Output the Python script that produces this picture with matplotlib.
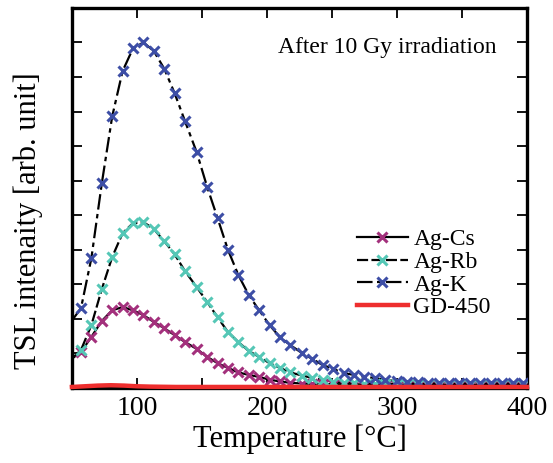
import numpy as np
import matplotlib
matplotlib.use("Agg")
import matplotlib.pyplot as plt
from matplotlib.ticker import MultipleLocator

plt.rcParams['font.family'] = ['Liberation Serif', 'DejaVu Serif']

# marker temperatures (deg C)
temp = [57, 65, 73, 81, 89, 97, 105, 113, 121, 129, 137, 146, 154, 162, 170,
        178, 186, 194, 202, 210, 218, 227, 235, 243, 251, 259, 267, 275, 283,
        291, 300, 308, 316, 324, 332, 340, 348, 356, 364, 372, 381, 389, 397]

ag_cs = [1.04, 1.48, 1.94, 2.25, 2.34, 2.25, 2.11, 1.91, 1.73, 1.53, 1.33, 1.13,
         0.90, 0.72, 0.58, 0.45, 0.38, 0.32, 0.24, 0.19, 0.15, 0.13, 0.12, 0.12,
         0.11, 0.11, 0.11, 0.10, 0.10, 0.10, 0.10, 0.10, 0.10, 0.10, 0.10, 0.10,
         0.10, 0.10, 0.10, 0.10, 0.10, 0.10, 0.10]

ag_rb = [1.10, 1.82, 2.86, 3.79, 4.48, 4.77, 4.80, 4.60, 4.25, 3.87, 3.38, 2.92,
         2.49, 2.05, 1.62, 1.33, 1.07, 0.90, 0.72, 0.58, 0.45, 0.36, 0.29, 0.23,
         0.18, 0.15, 0.14, 0.13, 0.13, 0.13, 0.12, 0.12, 0.12, 0.12, 0.12, 0.12,
         0.12, 0.12, 0.12, 0.12, 0.12, 0.12, 0.12]

ag_k = [2.31, 3.76, 5.92, 7.86, 9.17, 9.83, 10.0, 9.75, 9.24, 8.53, 7.72, 6.82,
        5.82, 4.92, 4.00, 3.27, 2.69, 2.25, 1.82, 1.47, 1.24, 1.01, 0.84, 0.66,
        0.55, 0.43, 0.38, 0.32, 0.29, 0.23, 0.20, 0.17, 0.16, 0.15, 0.15, 0.15,
        0.15, 0.15, 0.15, 0.15, 0.15, 0.15, 0.15]

# value of each curve at the left edge (50 deg C), line only
start_cs, start_rb, start_k = 0.85, 0.85, 1.95

gd_temp = [50, 60, 70, 80, 90, 100, 110, 130, 200, 300, 400]
gd_450 = [0.03, 0.05, 0.07, 0.08, 0.07, 0.05, 0.04, 0.03, 0.03, 0.03, 0.03]

fig = plt.figure(figsize=(5.53, 4.63), dpi=100)
ax = fig.add_axes([0.130, 0.162, 0.823, 0.821])

series = [
    ("Ag-Cs", ag_cs, start_cs, '-', '#a3307c'),
    ("Ag-Rb", ag_rb, start_rb, (0, (5, 1.5)), '#55c7b6'),
    ("Ag-K", ag_k, start_k, (0, (7, 2, 2, 2)), '#3d4ea6'),
]

handles = []
labels = []
for name, vals, v0, ls, col in series:
    ln, = ax.plot([50] + temp, [v0] + vals, color='k', ls=ls, lw=1.6, zorder=2)
    mk, = ax.plot(temp, vals, ls='none', marker='x', ms=7.5, mew=2.2,
                  color=col, zorder=3)
    handles.append((ln, mk))
    labels.append(name)

gd, = ax.plot(gd_temp, gd_450, color='#ee2e2e', lw=3.2, zorder=4, clip_on=False)
handles.append(gd)
labels.append("GD-450")

ax.set_xlim(50, 400)
ax.set_ylim(0, 11)
ax.xaxis.set_major_locator(MultipleLocator(100))
ax.xaxis.set_minor_locator(MultipleLocator(50))
ax.yaxis.set_major_locator(MultipleLocator(1))
ax.tick_params(which='both', direction='in', top=True, right=True,
               length=7, width=1.3, labelsize=20, pad=6)
ax.tick_params(axis='y', labelleft=False)
for s in ax.spines.values():
    s.set_linewidth(2.4)

ax.set_xlabel("Temperature [°C]", fontsize=22, labelpad=2)
ax.set_ylabel("TSL intenaity [arb. unit]", fontsize=22)
ax.yaxis.set_label_coords(-0.064, 0.44)

ax.text(0.453, 0.897, "After 10 Gy irradiation", transform=ax.transAxes,
        fontsize=17, va='center', ha='left')

ax.legend(handles, labels, loc='upper left', bbox_to_anchor=(0.600, 0.45),
          frameon=False, fontsize=17, handlelength=2.15, handletextpad=0.25,
          labelspacing=0.05, borderpad=0, numpoints=1)

fig.savefig("out.png", dpi=100)
